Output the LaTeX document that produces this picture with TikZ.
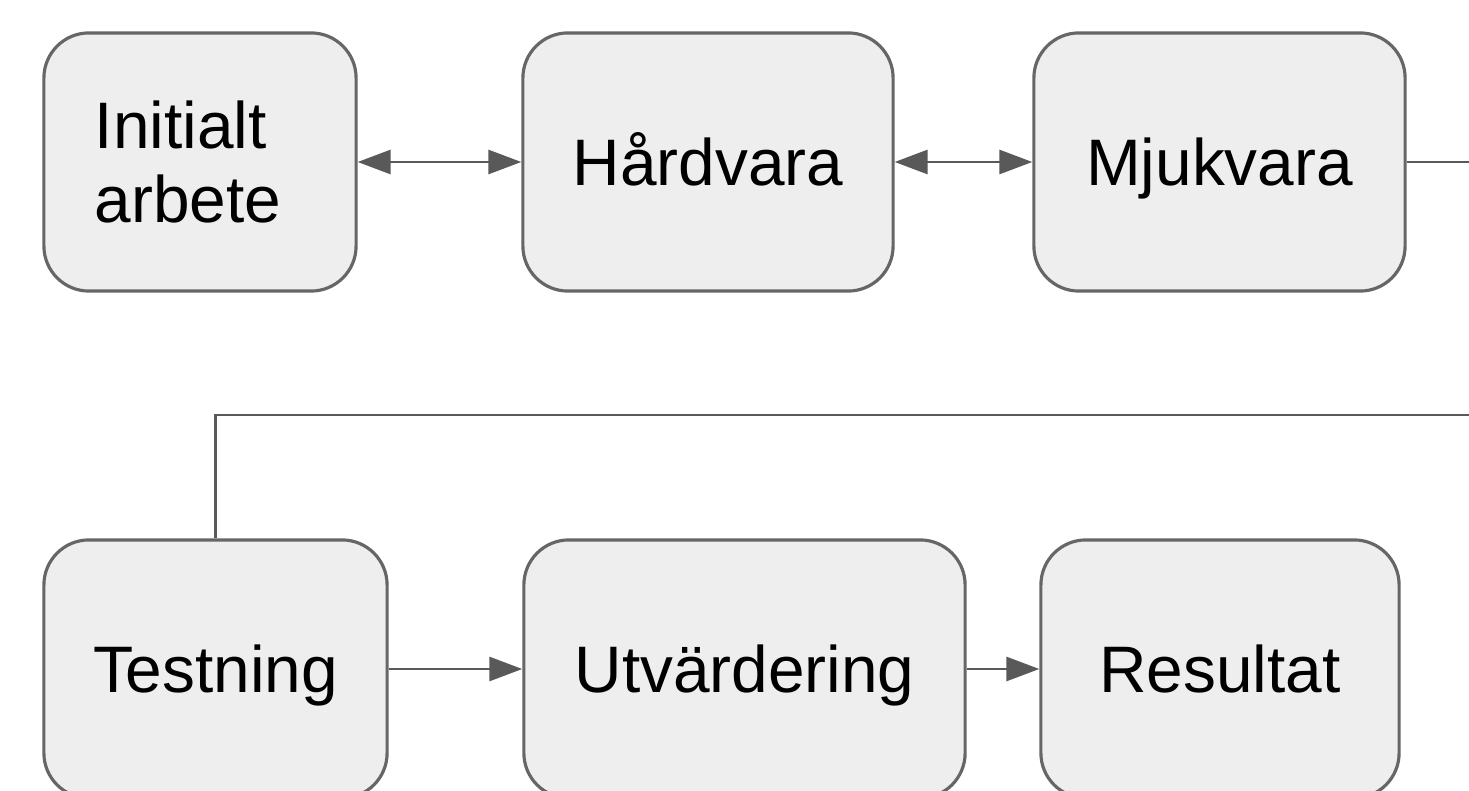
\documentclass[tikz,border=0pt]{standalone}
\usepackage{fontspec}
\setmainfont{Liberation Sans}
\usetikzlibrary{arrows.meta}
\definecolor{boxfill}{HTML}{EEEEEE}
\definecolor{boxline}{HTML}{666666}
\definecolor{flowline}{HTML}{595959}
\tikzset{
  stage/.style = {draw=boxline, line width=0.9pt, fill=boxfill, rounded corners=4.5mm,
                  minimum height=2.58cm, inner sep=2pt, align=center,
                  text height=13.4pt, text depth=0pt,
                  font=\fontsize{18.7}{21}\selectfont},
  flow/.style  = {draw=flowline, line width=0.85pt},
  tip/.style   = {-{Triangle[length=3.3mm,width=2.4mm]}},
  both/.style  = {{Triangle[length=3.3mm,width=2.4mm]}-{Triangle[length=3.3mm,width=2.4mm]}},
}
\begin{document}
\begin{tikzpicture}[x=0.01cm, y=-0.01cm]
  \useasboundingbox (0,0) rectangle (1469,791);
  \clip (0,0) rectangle (1469,791);
  \fill[white] (0,0) rectangle (1469,791);
  % top row
  \node[stage, minimum width=3.12cm, align=left, text width=2.1cm,
        text height=, text depth=] (init) at (200,162) {Initialt\\arbete};
  \node[stage, minimum width=3.70cm] (hw) at (708,162) {Hårdvara};
  \node[stage, minimum width=3.71cm] (sw) at (1219.5,162) {Mjukvara};
  % bottom row
  \node[stage, minimum width=3.43cm] (test) at (215.5,669) {Testning};
  \node[stage, minimum width=4.41cm] (eval) at (744.5,669) {Utvärdering};
  \node[stage, minimum width=3.58cm] (res) at (1220,669) {Resultat};
  % free ends past the right edge
  \coordinate (swout) at (1490,162);
  \coordinate (backR) at (1490,415);
  \coordinate (backL) at (215.5,415);
  \draw[flow, both] (init.east) -- (hw.west);
  \draw[flow, both] (hw.east) -- (sw.west);
  \draw[flow] (sw.east) -- (swout);
  \draw[flow] (backR) -- (backL) -- (test.north);
  \draw[flow, tip] (test.east) -- (eval.west);
  \draw[flow, tip] (eval.east) -- (res.west);
\end{tikzpicture}
\end{document}
